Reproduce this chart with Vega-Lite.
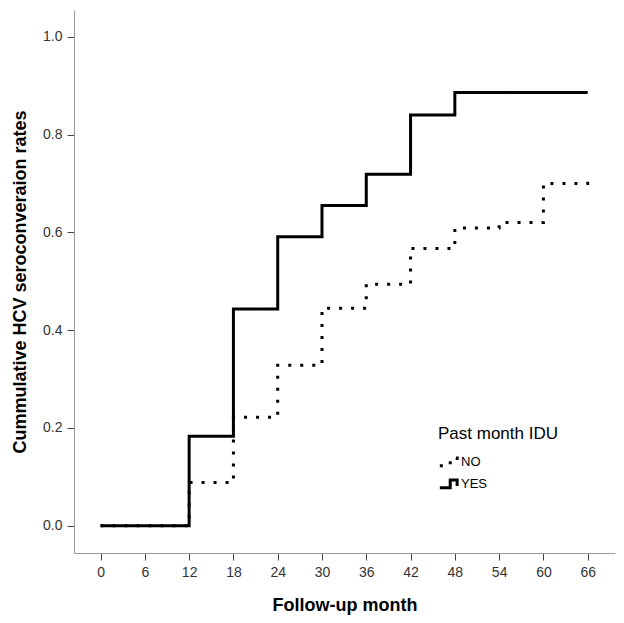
{
  "$schema": "https://vega.github.io/schema/vega-lite/v6.json",
  "autosize": "none",
  "width": 541,
  "height": 543,
  "padding": {"left": 74, "top": 10, "right": 9, "bottom": 70},
  "background": "white",
  "config": {
    "view": {"stroke": null},
    "font": "Liberation Sans"
  },
  "data": {
    "values": [
      {"month": 0, "rate": 0, "group": "NO"},
      {"month": 12, "rate": 0.088, "group": "NO"},
      {"month": 18, "rate": 0.222, "group": "NO"},
      {"month": 24, "rate": 0.328, "group": "NO"},
      {"month": 30, "rate": 0.445, "group": "NO"},
      {"month": 36, "rate": 0.494, "group": "NO"},
      {"month": 42, "rate": 0.567, "group": "NO"},
      {"month": 48, "rate": 0.609, "group": "NO"},
      {"month": 54, "rate": 0.62, "group": "NO"},
      {"month": 60, "rate": 0.7, "group": "NO"},
      {"month": 66, "rate": 0.722, "group": "NO"},
      {"month": 0, "rate": 0, "group": "YES"},
      {"month": 12, "rate": 0.183, "group": "YES"},
      {"month": 18, "rate": 0.443, "group": "YES"},
      {"month": 24, "rate": 0.591, "group": "YES"},
      {"month": 30, "rate": 0.655, "group": "YES"},
      {"month": 36, "rate": 0.719, "group": "YES"},
      {"month": 42, "rate": 0.84, "group": "YES"},
      {"month": 48, "rate": 0.886, "group": "YES"},
      {"month": 66, "rate": 0.886, "group": "YES"}
    ]
  },
  "mark": {"type": "line", "interpolate": "step-after", "strokeWidth": 3, "color": "black", "strokeCap": "butt"},
  "encoding": {
    "x": {
      "field": "month",
      "type": "quantitative",
      "scale": {"domain": [-3.6, 69.7], "nice": false, "zero": false},
      "axis": {
        "values": [0, 6, 12, 18, 24, 30, 36, 42, 48, 54, 60, 66],
        "title": "Follow-up month",
        "titleFont": "Liberation Sans",
        "titleFontSize": 18,
        "titleFontWeight": "bold",
        "titleColor": "black",
        "titlePadding": 17,
        "labelFontSize": 14,
        "labelColor": "#333",
        "labelPadding": 5,
        "grid": false,
        "domainColor": "#999",
        "tickColor": "#444",
        "tickSize": 7
      }
    },
    "y": {
      "field": "rate",
      "type": "quantitative",
      "scale": {"domain": [-0.056, 1.055], "nice": false, "zero": false},
      "axis": {
        "values": [0, 0.2, 0.4, 0.6, 0.8, 1.0],
        "format": ".1f",
        "title": "Cummulative HCV seroconveraion rates",
        "titleFont": "Liberation Sans",
        "titleFontSize": 18,
        "titleFontWeight": "bold",
        "titleColor": "black",
        "titlePadding": 13,
        "labelFontSize": 14,
        "labelColor": "#333",
        "labelPadding": 5,
        "grid": false,
        "domainColor": "#999",
        "tickColor": "#444",
        "tickSize": 7
      }
    },
    "strokeDash": {
      "field": "group",
      "type": "nominal",
      "scale": {"domain": ["NO", "YES"], "range": [[3, 9], [1, 0]]},
      "legend": {
        "title": "Past month IDU",
        "orient": "none",
        "legendX": 364,
        "legendY": 416,
        "titleFontSize": 17,
        "titleFontWeight": "normal",
        "titleColor": "black",
        "titlePadding": 8,
        "labelFontSize": 13,
        "labelColor": "black",
        "labelOffset": 2,
        "symbolType": "M -1 0.5 H 0.2 V -0.4 H 1 V 0.3",
        "symbolSize": 300,
        "symbolStrokeWidth": 3,
        "symbolStrokeColor": "black",
        "symbolFillColor": "transparent",
        "rowPadding": 1,
        "offset": 0,
        "padding": 0
      }
    }
  }
}
